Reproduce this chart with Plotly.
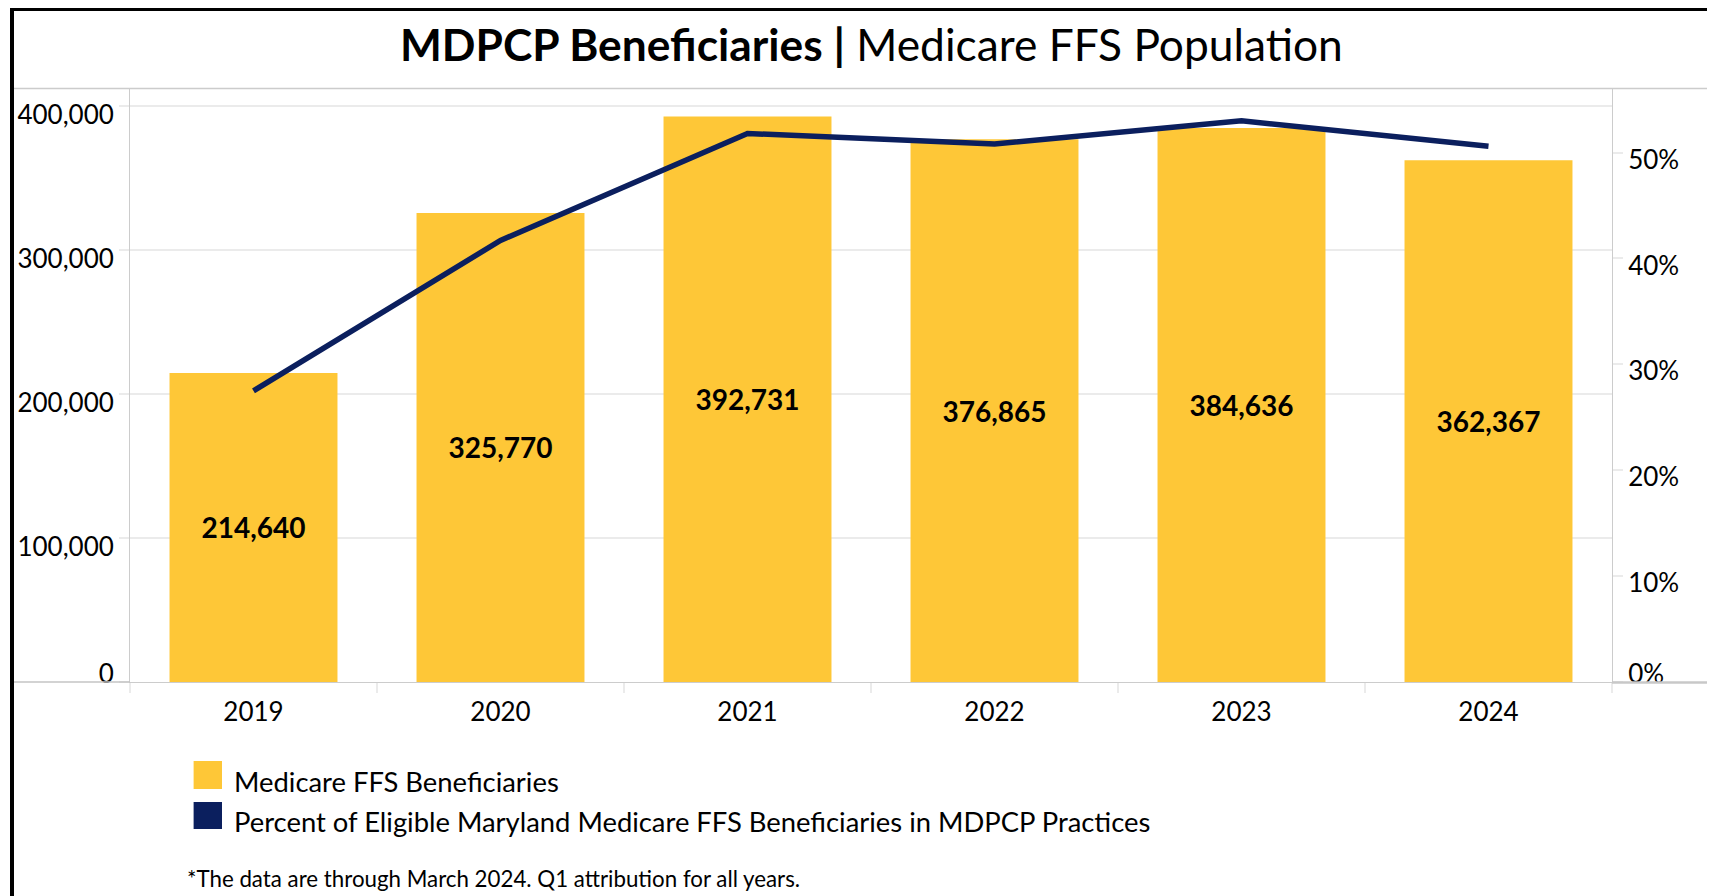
import plotly.graph_objects as go

# ---- data ----
years = ["2019", "2020", "2021", "2022", "2023", "2024"]
beneficiaries = [214640, 325770, 392731, 376865, 384636, 362367]
pct_in_mdpcp = [0.275, 0.417, 0.518, 0.508, 0.530, 0.506]
left_ticks = [0, 100000, 200000, 300000, 400000]
right_ticks = [0, 0.1, 0.2, 0.3, 0.4, 0.5]
bar_name = "Medicare FFS Beneficiaries"
line_name = "Percent of Eligible Maryland Medicare FFS Beneficiaries in MDPCP Practices"
title_bold = "MDPCP Beneficiaries |"
title_rest = "Medicare FFS Population"
footnote = "*The data are through March 2024. Q1 attribution for all years."

# ---- layout geometry (screen pixels; page body adds an 8px offset) ----
OFF = 8
W, H = 1715 - OFF, 896 - OFF
L, R, T, B = 130, 1612, 89, 682
Y1_MAX = 411800
Y2_MAX = 0.56

def px(x):
    return (x - L) / (R - L)

def py(y):
    return (B - y) / (B - T)

FONT = "Lato"
BAR_COLOR = "#FEC737"
LINE_COLOR = "#0B1F5E"
GRID = "#ebebeb"
BOX = "#cccccc"
TICKFONT = dict(family=FONT, size=26, color="black")

fig = go.Figure()
fig.add_bar(
    x=years, y=beneficiaries, name=bar_name, showlegend=False,
    marker=dict(color=BAR_COLOR, line=dict(width=0)), width=0.68,
    texttemplate="<b>%{y:,}</b>", textposition="inside", insidetextanchor="middle",
    textangle=0, textfont=dict(family=FONT, size=28, color="black"),
)
fig.add_scatter(
    x=years, y=pct_in_mdpcp, name=line_name, yaxis="y2", mode="lines",
    line=dict(color=LINE_COLOR, width=5.5), showlegend=False,
)
# empty carriers so the label-only overlay axes get drawn
for ax in ("y3", "y4", "y5", "y6"):
    fig.add_scatter(x=[years[0]], y=[None], yaxis=ax, mode="lines",
                    showlegend=False, hoverinfo="skip")


def label_axis(side, rng_max, shift_px, vals, fmt):
    """Label-only overlay axis, shifted vertically by shift_px (positive = down)."""
    d = shift_px / (B - T) * rng_max
    return dict(
        overlaying="y", side=side, anchor="x", range=[d, rng_max + d],
        tickvals=vals, tickformat=fmt, showgrid=False, zeroline=False,
        showline=False, ticks="outside", ticklen=10, tickcolor="rgba(0,0,0,0)",
        tickfont=TICKFONT, fixedrange=True,
    )


fig.update_layout(
    width=W, height=H,
    margin=dict(l=L - OFF, r=(W + OFF) - R, t=T - OFF, b=(H + OFF) - B, autoexpand=False),
    paper_bgcolor="white", plot_bgcolor="white",
    font=dict(family=FONT, color="black"),
    xaxis=dict(
        type="category", range=[-0.5, 5.5], showgrid=False,
        showline=True, linecolor=BOX, linewidth=1, mirror=True,
        ticks="outside", tickson="boundaries", ticklen=10, tickcolor=GRID, tickwidth=2,
        tickfont=TICKFONT, ticklabelstandoff=7,
    ),
    yaxis=dict(
        range=[0, Y1_MAX], tickvals=left_ticks, showticklabels=False,
        showgrid=True, gridcolor=GRID, gridwidth=2, zeroline=False,
        showline=True, linecolor=BOX, linewidth=1, mirror=True,
        ticks="outside", ticklen=10, tickcolor=GRID, tickwidth=2,
    ),
    yaxis2=dict(
        overlaying="y", side="right", range=[0, Y2_MAX], tickvals=right_ticks,
        showticklabels=False, showgrid=False, zeroline=False, showline=False,
        ticks="outside", ticklen=10, tickcolor=GRID, tickwidth=2,
    ),
    yaxis3=label_axis("left", Y1_MAX, 9, left_ticks[1:], ","),
    yaxis4=label_axis("left", Y1_MAX, -8.5, left_ticks[:1], ","),
    yaxis5=label_axis("right", Y2_MAX, 7, right_ticks[1:], ".0%"),
    yaxis6=label_axis("right", Y2_MAX, -8.5, right_ticks[:1], ".0%"),
)

shapes = [
    # outer black frame (top and left)
    dict(type="line", xref="paper", yref="paper", x0=px(10), x1=px(1720), y0=py(9), y1=py(9),
         line=dict(color="black", width=4)),
    dict(type="line", xref="paper", yref="paper", x0=px(12), x1=px(12), y0=py(7), y1=py(900),
         line=dict(color="black", width=4)),
    # panel top line and baseline extended across
    dict(type="line", xref="paper", yref="paper", x0=px(14), x1=px(1720), y0=py(88.5), y1=py(88.5),
         line=dict(color=BOX, width=1.5)),
    dict(type="line", xref="paper", yref="paper", x0=px(14), x1=px(L), y0=py(682), y1=py(682),
         line=dict(color="#c4c4c4", width=1.5)),
    dict(type="line", xref="paper", yref="paper", x0=px(R), x1=px(1720), y0=py(682.5), y1=py(682.5),
         line=dict(color="#c8c8c8", width=2.5)),
    # legend swatches
    dict(type="rect", xref="paper", yref="paper", x0=px(193.6), x1=px(222), y0=py(789), y1=py(761),
         fillcolor=BAR_COLOR, line=dict(width=0)),
    dict(type="rect", xref="paper", yref="paper", x0=px(193.6), x1=px(222), y0=py(829), y1=py(802),
         fillcolor=LINE_COLOR, line=dict(width=0)),
]
fig.update_layout(shapes=shapes)

annotations = [
    dict(xref="paper", yref="paper", x=0.5, y=py(43), xanchor="center", yanchor="middle",
         text=f"<b>{title_bold}</b> {title_rest}", showarrow=False,
         font=dict(family=FONT, size=44.3, color="black")),
    dict(xref="paper", yref="paper", x=px(232), y=py(781), xanchor="left", yanchor="middle",
         text=bar_name, showarrow=False, font=dict(family=FONT, size=27.4, color="black")),
    dict(xref="paper", yref="paper", x=px(232), y=py(821.5), xanchor="left", yanchor="middle",
         text=line_name, showarrow=False, font=dict(family=FONT, size=27.4, color="black")),
    dict(xref="paper", yref="paper", x=px(185), y=py(878), xanchor="left", yanchor="middle",
         text=footnote, showarrow=False, font=dict(family=FONT, size=22.3, color="black")),
]
fig.update_layout(annotations=annotations)

fig.write_html("out.html")
